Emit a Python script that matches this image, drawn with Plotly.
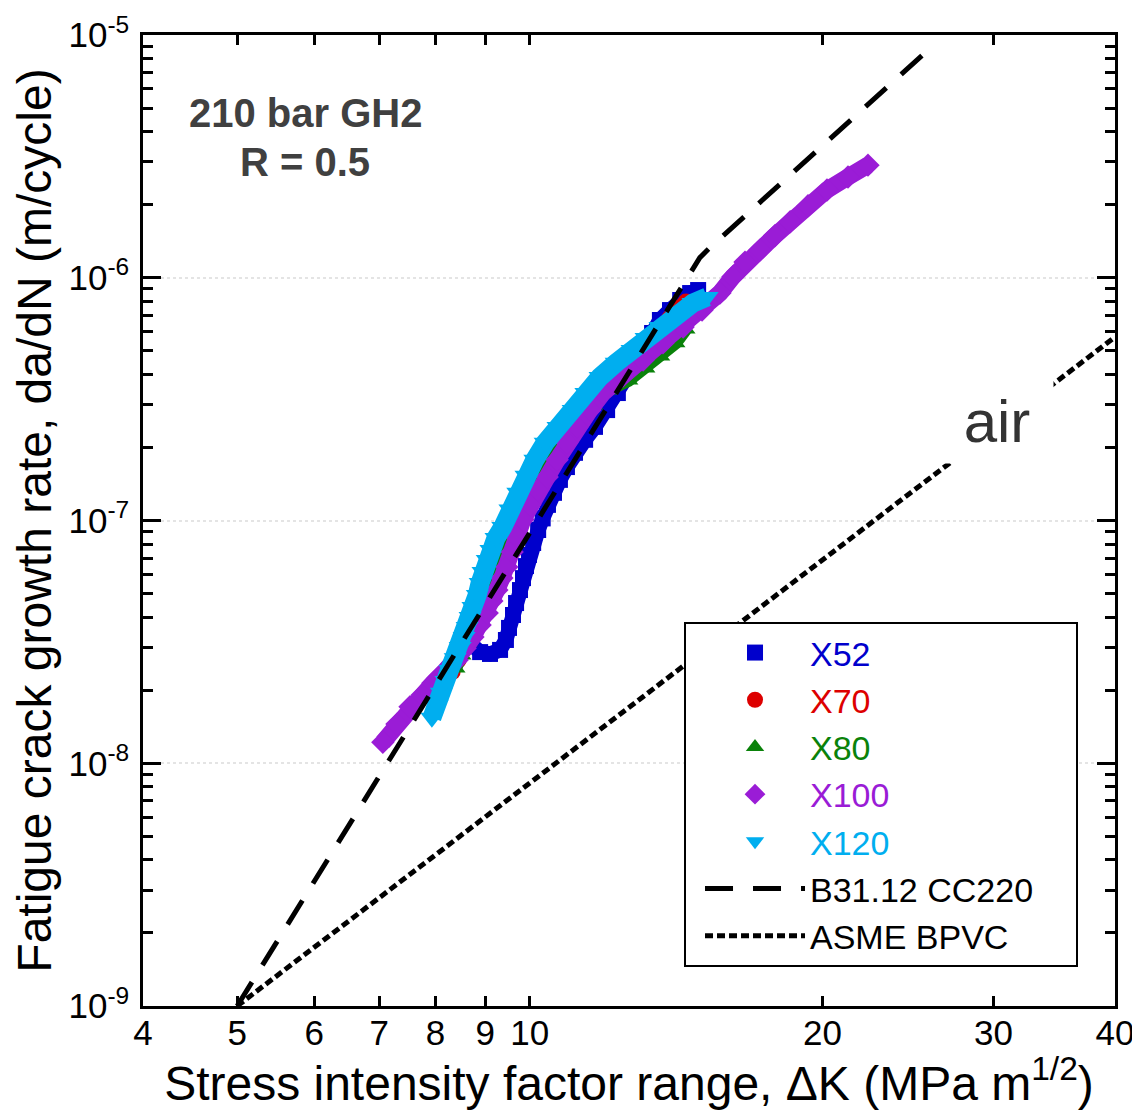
import plotly.graph_objects as go

# ---- data ----
k52 = [8.72, 8.89, 9.10, 9.32, 9.45, 9.52, 9.61, 9.68, 9.77, 9.84, 9.91, 9.98, 10.08, 10.20, 10.31, 10.44,
       10.59, 10.74, 10.92, 11.13, 11.40, 11.67, 12.01, 12.32, 12.62, 12.89, 13.14, 13.36, 13.61, 13.94,
       14.28, 14.62, 14.90]
r52 = [3.07e-8, 2.87e-8, 2.82e-8, 2.93e-8, 3.22e-8, 3.61e-8, 4.08e-8, 4.57e-8, 5.17e-8, 5.79e-8, 6.49e-8,
       7.21e-8, 8.08e-8, 9.14e-8, 1.02e-7, 1.16e-7, 1.30e-7, 1.47e-7, 1.66e-7, 1.90e-7, 2.15e-7, 2.43e-7,
       2.85e-7, 3.35e-7, 3.98e-7, 4.58e-7, 5.28e-7, 5.92e-7, 6.70e-7, 7.36e-7, 8.10e-7, 8.65e-7, 8.90e-7]

k70 = [8.32, 8.44, 8.54, 8.68, 8.81, 8.91, 9.02, 9.10, 9.19, 9.28, 9.38, 9.50, 9.63, 9.77, 9.93, 10.12,
       10.34, 10.59, 10.87, 11.18, 11.53, 11.92, 12.35, 12.80, 13.23, 13.61, 13.94, 14.21, 14.48]
r70 = [2.38e-8, 2.66e-8, 2.98e-8, 3.38e-8, 3.82e-8, 4.28e-8, 4.79e-8, 5.32e-8, 5.96e-8, 6.68e-8, 7.56e-8,
       8.55e-8, 9.67e-8, 1.11e-7, 1.26e-7, 1.45e-7, 1.68e-7, 1.93e-7, 2.23e-7, 2.59e-7, 2.99e-7, 3.45e-7,
       3.94e-7, 4.50e-7, 5.14e-7, 5.92e-7, 6.83e-7, 7.50e-7, 7.95e-7]

k80 = [8.38, 8.50, 8.62, 8.74, 8.84, 8.95, 9.06, 9.17, 9.28, 9.38, 9.50, 9.61, 9.72, 9.86, 10.03, 10.22,
       10.44, 10.69, 10.95, 11.26, 11.61, 12.01, 12.62, 13.14, 13.61, 14.11, 14.45]
r80 = [2.47e-8, 2.79e-8, 3.16e-8, 3.57e-8, 4.00e-8, 4.49e-8, 5.03e-8, 5.63e-8, 6.31e-8, 7.07e-8, 7.93e-8,
       8.88e-8, 9.95e-8, 1.13e-7, 1.27e-7, 1.45e-7, 1.66e-7, 1.92e-7, 2.21e-7, 2.57e-7, 2.99e-7, 3.45e-7,
       3.79e-7, 4.25e-7, 4.76e-7, 5.40e-7, 6.15e-7]

k100 = [7.06, 7.30, 7.53, 7.75, 7.95, 8.18, 8.42, 8.58, 8.74, 8.89, 9.04, 9.14, 9.25, 9.36, 9.47, 9.59,
        9.70, 9.84, 10.00, 10.20, 10.42, 10.67, 10.92, 11.18, 11.53, 11.89, 12.47, 13.08, 13.71, 14.38,
        15.04, 15.69, 16.18, 16.65, 17.25, 17.87, 18.53, 19.33, 20.22, 21.25, 22.28]
r100 = [1.22e-8, 1.45e-8, 1.71e-8, 1.91e-8, 2.14e-8, 2.40e-8, 2.66e-8, 2.98e-8, 3.31e-8, 3.71e-8, 4.16e-8,
        4.66e-8, 5.17e-8, 5.79e-8, 6.43e-8, 7.42e-8, 8.55e-8, 1.01e-7, 1.16e-7, 1.34e-7, 1.51e-7, 1.78e-7,
        2.09e-7, 2.43e-7, 2.85e-7, 3.35e-7, 3.94e-7, 4.58e-7, 5.39e-7, 6.27e-7, 7.36e-7, 8.65e-7, 1.01e-6,
        1.16e-6, 1.30e-6, 1.49e-6, 1.70e-6, 1.98e-6, 2.30e-6, 2.60e-6, 2.91e-6]

k120 = [7.93, 8.03, 8.11, 8.20, 8.28, 8.38, 8.48, 8.56, 8.62, 8.68, 8.74, 8.83, 8.89, 8.95, 9.04, 9.12,
        9.23, 9.38, 9.54, 9.72, 9.91, 10.12, 10.37, 10.69, 11.08, 11.42, 11.81, 12.27, 12.74, 13.17, 13.61,
        14.14, 14.72, 15.22]
r120 = [1.54e-8, 1.74e-8, 1.95e-8, 2.18e-8, 2.42e-8, 2.71e-8, 3.01e-8, 3.31e-8, 3.64e-8, 4.00e-8, 4.40e-8,
        4.93e-8, 5.53e-8, 6.13e-8, 6.87e-8, 7.56e-8, 8.47e-8, 9.40e-8, 1.11e-7, 1.30e-7, 1.53e-7, 1.78e-7,
        2.09e-7, 2.43e-7, 2.85e-7, 3.35e-7, 3.90e-7, 4.46e-7, 5.04e-7, 5.65e-7, 6.27e-7, 7.02e-7, 7.87e-7,
        8.33e-7]

k_b31 = [5.0, 14.62, 14.96, 15.32, 25.7]
r_b31 = [1.0e-9, 1.03e-6, 1.21e-6, 1.33e-6, 8.68e-6]

k_air = [5.0, 40.0]
r_air = [1.0e-9, 5.70e-7]

x_ticks = [4, 5, 6, 7, 8, 9, 10, 20, 30, 40]
y_ticks = [1e-9, 1e-8, 1e-7, 1e-6, 1e-5]
y_ticktext = ["10<sup>-9</sup>", "10<sup>-8</sup>", "10<sup>-7</sup>", "10<sup>-6</sup>", "10<sup>-5</sup>"]
y_minor = [m * 10.0 ** e for e in range(-9, -5) for m in range(2, 10)]

series = [
    ("X52", k52, r52, "#0000CC", "square", 16, 15),
    ("X70", k70, r70, "#DD0000", "circle", 17, 14),
    ("X80", k80, r80, "#0A820A", "triangle-up", 18, 14),
    ("X100", k100, r100, "#9A1CD6", "diamond", 18, 17),
    ("X120", k120, r120, "#00AEEF", "triangle-down", 20, 19),
]

FONT = "Liberation Sans, Arial, Helvetica, sans-serif"
NB = "\u00a0"

fig = go.Figure()

for name, kx, ry, col, sym, sz, lw in series:
    fig.add_trace(go.Scatter(x=kx, y=ry, mode="lines", line=dict(color=col, width=lw),
                             showlegend=False, hoverinfo="skip"))
    fig.add_trace(go.Scatter(x=kx, y=ry, mode="markers",
                             marker=dict(symbol=sym, size=sz, color=col, line=dict(width=0)),
                             name=f"<span style='color:{col}'>{name}</span>"))

fig.add_trace(go.Scatter(x=k_b31, y=r_b31, mode="lines", name="B31.12 CC220" + NB * 4,
                         line=dict(color="black", width=5, dash="28px,20px")))
fig.add_trace(go.Scatter(x=k_air, y=r_air, mode="lines", name="ASME BPVC",
                         line=dict(color="black", width=5, dash="8px,4px")))

axis_common = dict(showline=True, linecolor="black", linewidth=2.5, mirror="allticks",
                   ticks="inside", tickcolor="black", tickwidth=2.5, zeroline=False,
                   automargin=False)

# page body has an 8px margin: figure is sized/offset so the plot frame sits at 143..1115 x 35..1006
fig.update_layout(
    width=1124, height=1102, autosize=False,
    margin=dict(l=135, r=17, t=27, b=104, autoexpand=False),
    paper_bgcolor="white", plot_bgcolor="white",
    font=dict(family=FONT, color="black"),
    xaxis=dict(type="log", range=[0.60206, 1.60206], tickvals=x_ticks,
               ticktext=[str(v) for v in x_ticks], ticklen=10, showgrid=False,
               tickfont=dict(size=35), ticklabelstandoff=-6, ticklabeloverflow="allow",
               title=dict(text="Stress intensity factor range, \u0394K (MPa m<sup>1/2</sup>)",
                          font=dict(size=48), standoff=0),
               **axis_common),
    xaxis2=dict(type="log", range=[0.60206, 1.60206], overlaying="x", anchor="y",
                tickvals=[10], ticklen=18, showticklabels=False, showgrid=True,
                gridcolor="#e4e4e4", griddash="dot", gridwidth=1.5, automargin=False,
                showline=False, mirror="allticks", ticks="inside", tickcolor="black",
                tickwidth=2.5, zeroline=False),
    yaxis=dict(type="log", range=[-9, -5], tickvals=y_ticks, ticktext=y_ticktext,
               ticklen=18, tickfont=dict(size=35), showgrid=True, gridcolor="#e4e4e4",
               griddash="dot", gridwidth=1.5, ticklabelstandoff=4, ticklabeloverflow="allow",
               minor=dict(tickvals=y_minor, ticklen=10, ticks="inside", tickcolor="black",
                          tickwidth=2.5, showgrid=False),
               title=dict(text="Fatigue crack growth rate, da/dN (m/cycle)",
                          font=dict(size=48), standoff=4),
               **axis_common),
    legend=dict(x=0.5566, y=0.3955, xanchor="left", yanchor="top",
                bgcolor="white", bordercolor="black", borderwidth=2,
                font=dict(size=34, family=FONT, color="black"),
                itemwidth=100, tracegroupgap=0, indentation=14),
    showlegend=True,
)

fig.add_annotation(text="<b>210 bar GH2</b>", x=0.1667, y=0.9197, xref="paper", yref="paper",
                   xanchor="center", yanchor="middle",
                   showarrow=False, font=dict(size=40, color="#404040", family=FONT))
fig.add_annotation(text="<b>R = 0.5</b>", x=0.1667, y=0.8692, xref="paper", yref="paper",
                   xanchor="center", yanchor="middle",
                   showarrow=False, font=dict(size=40, color="#404040", family=FONT))
fig.add_annotation(text="air", x=0.8786, y=0.6025, xref="paper", yref="paper",
                   xanchor="center", yanchor="middle",
                   showarrow=False, font=dict(size=60, color="#333333", family=FONT),
                   bgcolor="white", width=112, height=84, borderpad=0, valign="middle")

fig.write_html("out.html")
